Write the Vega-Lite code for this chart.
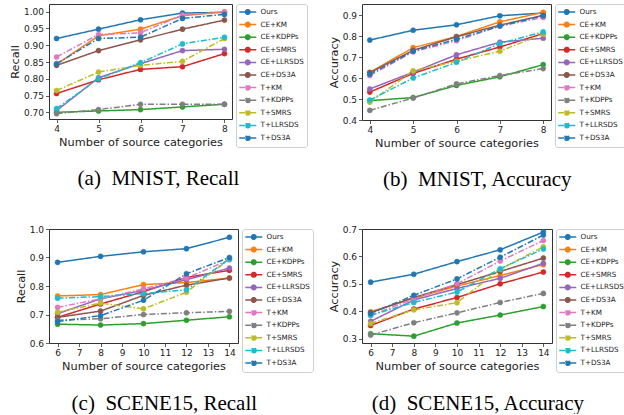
{
  "$schema": "https://vega.github.io/schema/vega-lite/v6.json",
  "padding": {"left": 8, "top": 3, "right": 0, "bottom": 0},
  "background": "white",
  "columns": 2,
  "spacing": {"column": 13, "row": 33},
  "resolve": {"scale": {"stroke": "independent", "fill": "independent", "strokeDash": "independent"}},
  "datasets": {
    "mr": [
      {"m":"Ours","n":4,"v":0.920},{"m":"Ours","n":5,"v":0.948},{"m":"Ours","n":6,"v":0.976},{"m":"Ours","n":7,"v":0.996},{"m":"Ours","n":8,"v":0.998},
      {"m":"CE+KM","n":4,"v":0.843},{"m":"CE+KM","n":5,"v":0.928},{"m":"CE+KM","n":6,"v":0.948},{"m":"CE+KM","n":7,"v":0.988},{"m":"CE+KM","n":8,"v":1.000},
      {"m":"CE+KDPPs","n":4,"v":0.700},{"m":"CE+KDPPs","n":5,"v":0.704},{"m":"CE+KDPPs","n":6,"v":0.708},{"m":"CE+KDPPs","n":7,"v":0.716},{"m":"CE+KDPPs","n":8,"v":0.724},
      {"m":"CE+SMRS","n":4,"v":0.756},{"m":"CE+SMRS","n":5,"v":0.797},{"m":"CE+SMRS","n":6,"v":0.828},{"m":"CE+SMRS","n":7,"v":0.836},{"m":"CE+SMRS","n":8,"v":0.875},
      {"m":"CE+LLRSDS","n":4,"v":0.705},{"m":"CE+LLRSDS","n":5,"v":0.803},{"m":"CE+LLRSDS","n":6,"v":0.845},{"m":"CE+LLRSDS","n":7,"v":0.884},{"m":"CE+LLRSDS","n":8,"v":0.888},
      {"m":"CE+DS3A","n":4,"v":0.840},{"m":"CE+DS3A","n":5,"v":0.884},{"m":"CE+DS3A","n":6,"v":0.916},{"m":"CE+DS3A","n":7,"v":0.948},{"m":"CE+DS3A","n":8,"v":0.975},
      {"m":"T+KM","n":4,"v":0.865},{"m":"T+KM","n":5,"v":0.932},{"m":"T+KM","n":6,"v":0.937},{"m":"T+KM","n":7,"v":0.990},{"m":"T+KM","n":8,"v":0.998},
      {"m":"T+KDPPs","n":4,"v":0.696},{"m":"T+KDPPs","n":5,"v":0.708},{"m":"T+KDPPs","n":6,"v":0.724},{"m":"T+KDPPs","n":7,"v":0.724},{"m":"T+KDPPs","n":8,"v":0.724},
      {"m":"T+SMRS","n":4,"v":0.765},{"m":"T+SMRS","n":5,"v":0.820},{"m":"T+SMRS","n":6,"v":0.840},{"m":"T+SMRS","n":7,"v":0.852},{"m":"T+SMRS","n":8,"v":0.920},
      {"m":"T+LLRSDS","n":4,"v":0.711},{"m":"T+LLRSDS","n":5,"v":0.800},{"m":"T+LLRSDS","n":6,"v":0.848},{"m":"T+LLRSDS","n":7,"v":0.904},{"m":"T+LLRSDS","n":8,"v":0.924},
      {"m":"T+DS3A","n":4,"v":0.845},{"m":"T+DS3A","n":5,"v":0.920},{"m":"T+DS3A","n":6,"v":0.924},{"m":"T+DS3A","n":7,"v":0.980},{"m":"T+DS3A","n":8,"v":0.992}
    ],
    "ma": [
      {"m":"Ours","n":4,"v":0.781},{"m":"Ours","n":5,"v":0.828},{"m":"Ours","n":6,"v":0.854},{"m":"Ours","n":7,"v":0.897},{"m":"Ours","n":8,"v":0.910},
      {"m":"CE+KM","n":4,"v":0.627},{"m":"CE+KM","n":5,"v":0.745},{"m":"CE+KM","n":6,"v":0.798},{"m":"CE+KM","n":7,"v":0.868},{"m":"CE+KM","n":8,"v":0.913},
      {"m":"CE+KDPPs","n":4,"v":0.492},{"m":"CE+KDPPs","n":5,"v":0.507},{"m":"CE+KDPPs","n":6,"v":0.565},{"m":"CE+KDPPs","n":7,"v":0.606},{"m":"CE+KDPPs","n":8,"v":0.664},
      {"m":"CE+SMRS","n":4,"v":0.533},{"m":"CE+SMRS","n":5,"v":0.622},{"m":"CE+SMRS","n":6,"v":0.690},{"m":"CE+SMRS","n":7,"v":0.748},{"m":"CE+SMRS","n":8,"v":0.812},
      {"m":"CE+LLRSDS","n":4,"v":0.548},{"m":"CE+LLRSDS","n":5,"v":0.628},{"m":"CE+LLRSDS","n":6,"v":0.711},{"m":"CE+LLRSDS","n":7,"v":0.771},{"m":"CE+LLRSDS","n":8,"v":0.790},
      {"m":"CE+DS3A","n":4,"v":0.626},{"m":"CE+DS3A","n":5,"v":0.732},{"m":"CE+DS3A","n":6,"v":0.797},{"m":"CE+DS3A","n":7,"v":0.852},{"m":"CE+DS3A","n":8,"v":0.899},
      {"m":"T+KM","n":4,"v":0.612},{"m":"T+KM","n":5,"v":0.725},{"m":"T+KM","n":6,"v":0.778},{"m":"T+KM","n":7,"v":0.848},{"m":"T+KM","n":8,"v":0.889},
      {"m":"T+KDPPs","n":4,"v":0.446},{"m":"T+KDPPs","n":5,"v":0.505},{"m":"T+KDPPs","n":6,"v":0.572},{"m":"T+KDPPs","n":7,"v":0.612},{"m":"T+KDPPs","n":8,"v":0.645},
      {"m":"T+SMRS","n":4,"v":0.485},{"m":"T+SMRS","n":5,"v":0.635},{"m":"T+SMRS","n":6,"v":0.680},{"m":"T+SMRS","n":7,"v":0.728},{"m":"T+SMRS","n":8,"v":0.810},
      {"m":"T+LLRSDS","n":4,"v":0.495},{"m":"T+LLRSDS","n":5,"v":0.600},{"m":"T+LLRSDS","n":6,"v":0.675},{"m":"T+LLRSDS","n":7,"v":0.765},{"m":"T+LLRSDS","n":8,"v":0.820},
      {"m":"T+DS3A","n":4,"v":0.618},{"m":"T+DS3A","n":5,"v":0.728},{"m":"T+DS3A","n":6,"v":0.785},{"m":"T+DS3A","n":7,"v":0.848},{"m":"T+DS3A","n":8,"v":0.897}
    ],
    "sr": [
      {"m":"Ours","n":6,"v":0.883},{"m":"Ours","n":8,"v":0.904},{"m":"Ours","n":10,"v":0.920},{"m":"Ours","n":12,"v":0.931},{"m":"Ours","n":14,"v":0.971},
      {"m":"CE+KM","n":6,"v":0.765},{"m":"CE+KM","n":8,"v":0.770},{"m":"CE+KM","n":10,"v":0.805},{"m":"CE+KM","n":12,"v":0.812},{"m":"CE+KM","n":14,"v":0.828},
      {"m":"CE+KDPPs","n":6,"v":0.666},{"m":"CE+KDPPs","n":8,"v":0.663},{"m":"CE+KDPPs","n":10,"v":0.668},{"m":"CE+KDPPs","n":12,"v":0.680},{"m":"CE+KDPPs","n":14,"v":0.692},
      {"m":"CE+SMRS","n":6,"v":0.690},{"m":"CE+SMRS","n":8,"v":0.737},{"m":"CE+SMRS","n":10,"v":0.780},{"m":"CE+SMRS","n":12,"v":0.830},{"m":"CE+SMRS","n":14,"v":0.855},
      {"m":"CE+LLRSDS","n":6,"v":0.703},{"m":"CE+LLRSDS","n":8,"v":0.755},{"m":"CE+LLRSDS","n":10,"v":0.785},{"m":"CE+LLRSDS","n":12,"v":0.822},{"m":"CE+LLRSDS","n":14,"v":0.863},
      {"m":"CE+DS3A","n":6,"v":0.690},{"m":"CE+DS3A","n":8,"v":0.712},{"m":"CE+DS3A","n":10,"v":0.767},{"m":"CE+DS3A","n":12,"v":0.803},{"m":"CE+DS3A","n":14,"v":0.828},
      {"m":"T+KM","n":6,"v":0.725},{"m":"T+KM","n":8,"v":0.755},{"m":"T+KM","n":10,"v":0.790},{"m":"T+KM","n":12,"v":0.828},{"m":"T+KM","n":14,"v":0.892},
      {"m":"T+KDPPs","n":6,"v":0.680},{"m":"T+KDPPs","n":8,"v":0.685},{"m":"T+KDPPs","n":10,"v":0.700},{"m":"T+KDPPs","n":12,"v":0.706},{"m":"T+KDPPs","n":14,"v":0.711},
      {"m":"T+SMRS","n":6,"v":0.708},{"m":"T+SMRS","n":8,"v":0.740},{"m":"T+SMRS","n":10,"v":0.720},{"m":"T+SMRS","n":12,"v":0.778},{"m":"T+SMRS","n":14,"v":0.895},
      {"m":"T+LLRSDS","n":6,"v":0.757},{"m":"T+LLRSDS","n":8,"v":0.763},{"m":"T+LLRSDS","n":10,"v":0.773},{"m":"T+LLRSDS","n":12,"v":0.787},{"m":"T+LLRSDS","n":14,"v":0.895},
      {"m":"T+DS3A","n":6,"v":0.675},{"m":"T+DS3A","n":8,"v":0.696},{"m":"T+DS3A","n":10,"v":0.750},{"m":"T+DS3A","n":12,"v":0.843},{"m":"T+DS3A","n":14,"v":0.900}
    ],
    "sa": [
      {"m":"Ours","n":6,"v":0.506},{"m":"Ours","n":8,"v":0.535},{"m":"Ours","n":10,"v":0.581},{"m":"Ours","n":12,"v":0.624},{"m":"Ours","n":14,"v":0.689},
      {"m":"CE+KM","n":6,"v":0.398},{"m":"CE+KM","n":8,"v":0.447},{"m":"CE+KM","n":10,"v":0.492},{"m":"CE+KM","n":12,"v":0.530},{"m":"CE+KM","n":14,"v":0.570},
      {"m":"CE+KDPPs","n":6,"v":0.318},{"m":"CE+KDPPs","n":8,"v":0.309},{"m":"CE+KDPPs","n":10,"v":0.357},{"m":"CE+KDPPs","n":12,"v":0.386},{"m":"CE+KDPPs","n":14,"v":0.417},
      {"m":"CE+SMRS","n":6,"v":0.348},{"m":"CE+SMRS","n":8,"v":0.408},{"m":"CE+SMRS","n":10,"v":0.450},{"m":"CE+SMRS","n":12,"v":0.500},{"m":"CE+SMRS","n":14,"v":0.543},
      {"m":"CE+LLRSDS","n":6,"v":0.363},{"m":"CE+LLRSDS","n":8,"v":0.441},{"m":"CE+LLRSDS","n":10,"v":0.483},{"m":"CE+LLRSDS","n":12,"v":0.520},{"m":"CE+LLRSDS","n":14,"v":0.575},
      {"m":"CE+DS3A","n":6,"v":0.395},{"m":"CE+DS3A","n":8,"v":0.450},{"m":"CE+DS3A","n":10,"v":0.497},{"m":"CE+DS3A","n":12,"v":0.545},{"m":"CE+DS3A","n":14,"v":0.594},
      {"m":"T+KM","n":6,"v":0.385},{"m":"T+KM","n":8,"v":0.445},{"m":"T+KM","n":10,"v":0.500},{"m":"T+KM","n":12,"v":0.583},{"m":"T+KM","n":14,"v":0.658},
      {"m":"T+KDPPs","n":6,"v":0.313},{"m":"T+KDPPs","n":8,"v":0.358},{"m":"T+KDPPs","n":10,"v":0.394},{"m":"T+KDPPs","n":12,"v":0.432},{"m":"T+KDPPs","n":14,"v":0.465},
      {"m":"T+SMRS","n":6,"v":0.355},{"m":"T+SMRS","n":8,"v":0.405},{"m":"T+SMRS","n":10,"v":0.431},{"m":"T+SMRS","n":12,"v":0.553},{"m":"T+SMRS","n":14,"v":0.635},
      {"m":"T+LLRSDS","n":6,"v":0.385},{"m":"T+LLRSDS","n":8,"v":0.432},{"m":"T+LLRSDS","n":10,"v":0.470},{"m":"T+LLRSDS","n":12,"v":0.555},{"m":"T+LLRSDS","n":14,"v":0.627},
      {"m":"T+DS3A","n":6,"v":0.392},{"m":"T+DS3A","n":8,"v":0.458},{"m":"T+DS3A","n":10,"v":0.518},{"m":"T+DS3A","n":12,"v":0.597},{"m":"T+DS3A","n":14,"v":0.678}
    ]
  },
  "concat": [
    {
      "width": 183, "height": 115,
      "title": {"text": "(a)\u00a0 MNIST, Recall"},
      "data": {"name": "mr"},
      "encoding": {
        "x": {"field": "n", "type": "quantitative", "title": "Number of source categories", "scale": {"domain": [3.82, 8.18], "nice": false, "zero": false}, "axis": {"values": [4,5,6,7,8], "format": "d"}},
        "y": {"field": "v", "type": "quantitative", "title": "Recall", "scale": {"domain": [0.68, 1.023], "nice": false, "zero": false}, "axis": {"values": [0.70,0.75,0.80,0.85,0.90,0.95,1.00], "format": ".2f"}}
      },
      "layer": [
        {"mark": {"type": "line", "strokeWidth": 1.5},
         "encoding": {
          "stroke": {"field": "m", "type": "nominal", "title": null, "scale": {"domain": ["Ours","CE+KM","CE+KDPPs","CE+SMRS","CE+LLRSDS","CE+DS3A","T+KM","T+KDPPs","T+SMRS","T+LLRSDS","T+DS3A"], "range": ["#1f77b4","#ff7f0e","#2ca02c","#d62728","#9467bd","#8c564b","#e377c2","#7f7f7f","#bcbd22","#17becf","#1f77b4"]}},
          "strokeDash": {"field": "m", "type": "nominal", "title": null, "scale": {"domain": ["Ours","CE+KM","CE+KDPPs","CE+SMRS","CE+LLRSDS","CE+DS3A","T+KM","T+KDPPs","T+SMRS","T+LLRSDS","T+DS3A"], "range": [[1,0],[1,0],[1,0],[1,0],[1,0],[1,0],[6,2,1.5,2],[6,2,1.5,2],[6,2,1.5,2],[6,2,1.5,2],[6,2,1.5,2]]}}
        }},
        {"mark": {"type": "point", "filled": true, "size": 26, "opacity": 1, "strokeWidth": 0.5},
         "encoding": {
          "stroke": {"field": "m", "type": "nominal", "title": null, "scale": {"domain": ["Ours","CE+KM","CE+KDPPs","CE+SMRS","CE+LLRSDS","CE+DS3A","T+KM","T+KDPPs","T+SMRS","T+LLRSDS","T+DS3A"], "range": ["#1f77b4","#ff7f0e","#2ca02c","#d62728","#9467bd","#8c564b","#e377c2","#7f7f7f","#bcbd22","#17becf","#1f77b4"]}},
          "fill": {"field": "m", "type": "nominal", "title": null, "scale": {"domain": ["Ours","CE+KM","CE+KDPPs","CE+SMRS","CE+LLRSDS","CE+DS3A","T+KM","T+KDPPs","T+SMRS","T+LLRSDS","T+DS3A"], "range": ["#1f77b4","#ff7f0e","#2ca02c","#d62728","#9467bd","#8c564b","#e377c2","#7f7f7f","#bcbd22","#17becf","#1f77b4"]}}
        }}
      ]
    },
    {
      "width": 189, "height": 116,
      "title": {"text": "(b)\u00a0 MNIST, Accuracy"},
      "data": {"name": "ma"},
      "encoding": {
        "x": {"field": "n", "type": "quantitative", "title": "Number of source categories", "scale": {"domain": [3.82, 8.18], "nice": false, "zero": false}, "axis": {"values": [4,5,6,7,8], "format": "d"}},
        "y": {"field": "v", "type": "quantitative", "title": "Accuracy", "scale": {"domain": [0.4, 0.953], "nice": false, "zero": false}, "axis": {"values": [0.4,0.5,0.6,0.7,0.8,0.9], "format": ".1f"}}
      },
      "layer": [
        {"mark": {"type": "line", "strokeWidth": 1.5},
         "encoding": {
          "stroke": {"field": "m", "type": "nominal", "title": null, "scale": {"domain": ["Ours","CE+KM","CE+KDPPs","CE+SMRS","CE+LLRSDS","CE+DS3A","T+KM","T+KDPPs","T+SMRS","T+LLRSDS","T+DS3A"], "range": ["#1f77b4","#ff7f0e","#2ca02c","#d62728","#9467bd","#8c564b","#e377c2","#7f7f7f","#bcbd22","#17becf","#1f77b4"]}},
          "strokeDash": {"field": "m", "type": "nominal", "title": null, "scale": {"domain": ["Ours","CE+KM","CE+KDPPs","CE+SMRS","CE+LLRSDS","CE+DS3A","T+KM","T+KDPPs","T+SMRS","T+LLRSDS","T+DS3A"], "range": [[1,0],[1,0],[1,0],[1,0],[1,0],[1,0],[6,2,1.5,2],[6,2,1.5,2],[6,2,1.5,2],[6,2,1.5,2],[6,2,1.5,2]]}}
        }},
        {"mark": {"type": "point", "filled": true, "size": 26, "opacity": 1, "strokeWidth": 0.5},
         "encoding": {
          "stroke": {"field": "m", "type": "nominal", "title": null, "scale": {"domain": ["Ours","CE+KM","CE+KDPPs","CE+SMRS","CE+LLRSDS","CE+DS3A","T+KM","T+KDPPs","T+SMRS","T+LLRSDS","T+DS3A"], "range": ["#1f77b4","#ff7f0e","#2ca02c","#d62728","#9467bd","#8c564b","#e377c2","#7f7f7f","#bcbd22","#17becf","#1f77b4"]}},
          "fill": {"field": "m", "type": "nominal", "title": null, "scale": {"domain": ["Ours","CE+KM","CE+KDPPs","CE+SMRS","CE+LLRSDS","CE+DS3A","T+KM","T+KDPPs","T+SMRS","T+LLRSDS","T+DS3A"], "range": ["#1f77b4","#ff7f0e","#2ca02c","#d62728","#9467bd","#8c564b","#e377c2","#7f7f7f","#bcbd22","#17becf","#1f77b4"]}}
        }}
      ]
    },
    {
      "width": 189, "height": 114,
      "title": {"text": "(c)\u00a0 SCENE15, Recall"},
      "data": {"name": "sr"},
      "encoding": {
        "x": {"field": "n", "type": "quantitative", "title": "Number of source categories", "scale": {"domain": [5.6, 14.4], "nice": false, "zero": false}, "axis": {"values": [6,7,8,9,10,11,12,13,14], "format": "d"}},
        "y": {"field": "v", "type": "quantitative", "title": "Recall", "scale": {"domain": [0.6, 1.0], "nice": false, "zero": false}, "axis": {"values": [0.6,0.7,0.8,0.9,1.0], "format": ".1f"}}
      },
      "layer": [
        {"mark": {"type": "line", "strokeWidth": 1.5},
         "encoding": {
          "stroke": {"field": "m", "type": "nominal", "title": null, "scale": {"domain": ["Ours","CE+KM","CE+KDPPs","CE+SMRS","CE+LLRSDS","CE+DS3A","T+KM","T+KDPPs","T+SMRS","T+LLRSDS","T+DS3A"], "range": ["#1f77b4","#ff7f0e","#2ca02c","#d62728","#9467bd","#8c564b","#e377c2","#7f7f7f","#bcbd22","#17becf","#1f77b4"]}},
          "strokeDash": {"field": "m", "type": "nominal", "title": null, "scale": {"domain": ["Ours","CE+KM","CE+KDPPs","CE+SMRS","CE+LLRSDS","CE+DS3A","T+KM","T+KDPPs","T+SMRS","T+LLRSDS","T+DS3A"], "range": [[1,0],[1,0],[1,0],[1,0],[1,0],[1,0],[6,2,1.5,2],[6,2,1.5,2],[6,2,1.5,2],[6,2,1.5,2],[6,2,1.5,2]]}}
        }},
        {"mark": {"type": "point", "filled": true, "size": 26, "opacity": 1, "strokeWidth": 0.5},
         "encoding": {
          "stroke": {"field": "m", "type": "nominal", "title": null, "scale": {"domain": ["Ours","CE+KM","CE+KDPPs","CE+SMRS","CE+LLRSDS","CE+DS3A","T+KM","T+KDPPs","T+SMRS","T+LLRSDS","T+DS3A"], "range": ["#1f77b4","#ff7f0e","#2ca02c","#d62728","#9467bd","#8c564b","#e377c2","#7f7f7f","#bcbd22","#17becf","#1f77b4"]}},
          "fill": {"field": "m", "type": "nominal", "title": null, "scale": {"domain": ["Ours","CE+KM","CE+KDPPs","CE+SMRS","CE+LLRSDS","CE+DS3A","T+KM","T+KDPPs","T+SMRS","T+LLRSDS","T+DS3A"], "range": ["#1f77b4","#ff7f0e","#2ca02c","#d62728","#9467bd","#8c564b","#e377c2","#7f7f7f","#bcbd22","#17becf","#1f77b4"]}}
        }}
      ]
    },
    {
      "width": 190, "height": 114,
      "title": {"text": "(d)\u00a0 SCENE15, Accuracy"},
      "data": {"name": "sa"},
      "encoding": {
        "x": {"field": "n", "type": "quantitative", "title": "Number of source categories", "scale": {"domain": [5.6, 14.4], "nice": false, "zero": false}, "axis": {"values": [6,7,8,9,10,11,12,13,14], "format": "d"}},
        "y": {"field": "v", "type": "quantitative", "title": "Accuracy", "scale": {"domain": [0.284, 0.7], "nice": false, "zero": false}, "axis": {"values": [0.3,0.4,0.5,0.6,0.7], "format": ".1f"}}
      },
      "layer": [
        {"mark": {"type": "line", "strokeWidth": 1.5},
         "encoding": {
          "stroke": {"field": "m", "type": "nominal", "title": null, "scale": {"domain": ["Ours","CE+KM","CE+KDPPs","CE+SMRS","CE+LLRSDS","CE+DS3A","T+KM","T+KDPPs","T+SMRS","T+LLRSDS","T+DS3A"], "range": ["#1f77b4","#ff7f0e","#2ca02c","#d62728","#9467bd","#8c564b","#e377c2","#7f7f7f","#bcbd22","#17becf","#1f77b4"]}},
          "strokeDash": {"field": "m", "type": "nominal", "title": null, "scale": {"domain": ["Ours","CE+KM","CE+KDPPs","CE+SMRS","CE+LLRSDS","CE+DS3A","T+KM","T+KDPPs","T+SMRS","T+LLRSDS","T+DS3A"], "range": [[1,0],[1,0],[1,0],[1,0],[1,0],[1,0],[6,2,1.5,2],[6,2,1.5,2],[6,2,1.5,2],[6,2,1.5,2],[6,2,1.5,2]]}}
        }},
        {"mark": {"type": "point", "filled": true, "size": 26, "opacity": 1, "strokeWidth": 0.5},
         "encoding": {
          "stroke": {"field": "m", "type": "nominal", "title": null, "scale": {"domain": ["Ours","CE+KM","CE+KDPPs","CE+SMRS","CE+LLRSDS","CE+DS3A","T+KM","T+KDPPs","T+SMRS","T+LLRSDS","T+DS3A"], "range": ["#1f77b4","#ff7f0e","#2ca02c","#d62728","#9467bd","#8c564b","#e377c2","#7f7f7f","#bcbd22","#17becf","#1f77b4"]}},
          "fill": {"field": "m", "type": "nominal", "title": null, "scale": {"domain": ["Ours","CE+KM","CE+KDPPs","CE+SMRS","CE+LLRSDS","CE+DS3A","T+KM","T+KDPPs","T+SMRS","T+LLRSDS","T+DS3A"], "range": ["#1f77b4","#ff7f0e","#2ca02c","#d62728","#9467bd","#8c564b","#e377c2","#7f7f7f","#bcbd22","#17becf","#1f77b4"]}}
        }}
      ]
    }
  ],
  "config": {
    "font": "DejaVu Sans",
    "view": {"stroke": "#333", "strokeWidth": 1},
    "axis": {
      "grid": false, "domain": false,
      "labelFont": "DejaVu Sans", "labelFontSize": 9, "labelColor": "#222", "labelPadding": 2,
      "tickSize": 3.5, "tickColor": "#333", "tickWidth": 0.8,
      "titleFont": "DejaVu Sans", "titleFontSize": 11.3, "titleFontWeight": "normal", "titleColor": "#222", "titlePadding": 3
    },
    "legend": {
      "orient": "right", "offset": 4, "padding": 3,
      "strokeColor": "#d0d0d0", "fillColor": "white", "cornerRadius": 2.5,
      "labelFont": "DejaVu Sans", "labelFontSize": 7.2, "labelColor": "#222", "labelOffset": 11.5,
      "symbolType": "M-1.19,0H3.06M1.515,0A0.575,0.575,0,1,1,0.365,0A0.575,0.575,0,1,1,1.515,0",
      "symbolSize": 64, "symbolStrokeWidth": 1.5, "rowPadding": 0.6
    },
    "title": {"font": "Liberation Serif", "fontSize": 21, "fontWeight": "normal", "color": "#000", "orient": "bottom", "anchor": "middle", "frame": "bounds", "offset": 20}
  }
}
